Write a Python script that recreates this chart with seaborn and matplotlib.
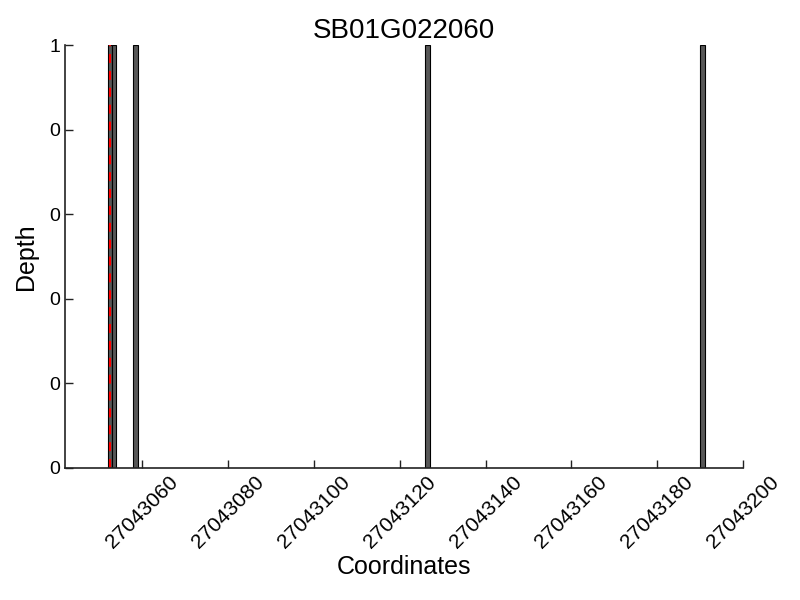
import matplotlib
matplotlib.use("Agg")
import matplotlib.pyplot as plt
import seaborn as sns
import numpy as np
import pandas as pd
from matplotlib.ticker import FormatStrFormatter

# Data
bin_start = [27043052, 27043053, 27043058, 27043126, 27043190]
depth = [1, 1, 1, 1, 1]
marker_pos = 27043052.5
title = "SB01G022060"
x_ticks = [27043060, 27043080, 27043100, 27043120, 27043140, 27043160, 27043180, 27043200]
y_ticks = [0, 0.2, 0.4, 0.6, 0.8, 1.0]

sns.set_theme(style="white")
plt.rcParams['font.family'] = ['Liberation Sans', 'DejaVu Sans']
plt.rcParams['text.color'] = 'black'
plt.rcParams['axes.labelcolor'] = 'black'
plt.rcParams['xtick.color'] = 'black'
plt.rcParams['ytick.color'] = 'black'

fig = plt.figure(figsize=(8, 6), dpi=100)
ax = fig.add_axes([0.081, 0.22, 0.848, 0.705])

df = pd.DataFrame({"pos": np.array(bin_start) + 0.5, "depth": depth})
sns.barplot(data=df, x="pos", y="depth", native_scale=True, width=1.0,
            color="#575757", edgecolor="black", linewidth=0.8,
            saturation=1, ax=ax)
ax.axvline(marker_pos, color="red", linewidth=1.5, dashes=(4.3, 3.8))

ax.set_xlim(27043042, 27043200)
ax.set_ylim(0, 1)
ax.set_xticks(x_ticks)
ax.set_xticklabels([str(t) for t in x_ticks], rotation=45, fontsize=15)
ax.set_yticks(y_ticks)
ax.yaxis.set_major_formatter(FormatStrFormatter('%d'))
ax.tick_params(axis='y', labelsize=14)
ax.tick_params(direction='in', length=6, width=1, color='#222222', bottom=True, left=True)

for s in ['top', 'right']:
    ax.spines[s].set_visible(False)
for s in ['left', 'bottom']:
    ax.spines[s].set_color('#222222')
    ax.spines[s].set_linewidth(1.2)

ax.set_title(title, fontsize=20, pad=5)
ax.set_xlabel("Coordinates", fontsize=18, labelpad=2)
ax.set_ylabel("Depth", fontsize=18, labelpad=8)

fig.savefig("out.png", dpi=100)
